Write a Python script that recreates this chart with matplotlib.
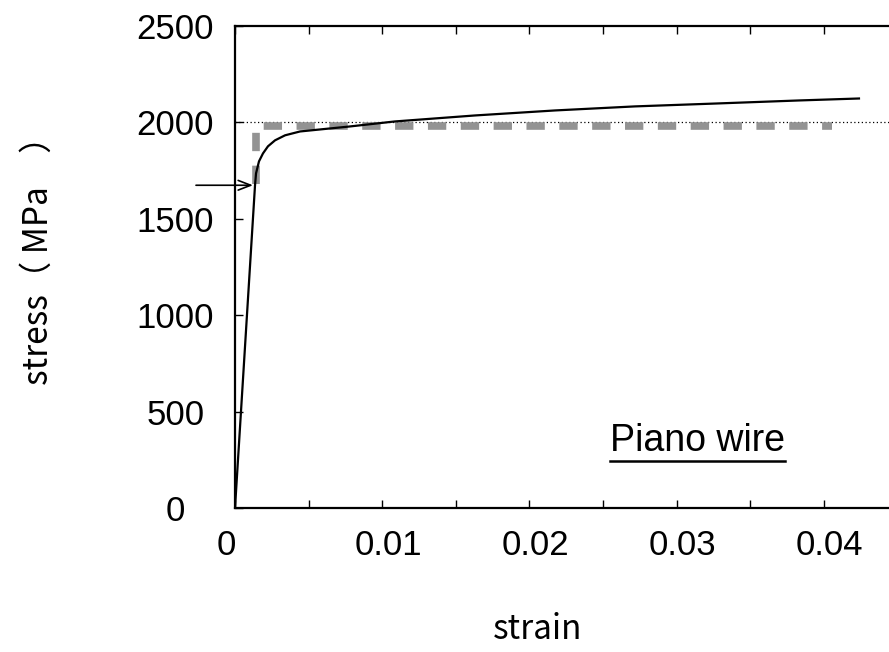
import matplotlib
matplotlib.use('Agg')
from matplotlib import pyplot as plt
from matplotlib.lines import Line2D
from matplotlib.transforms import ScaledTranslation

# Stress-strain curve of piano wire.
strain = [0.0, 0.00136, 0.00143, 0.00163, 0.00190, 0.00224, 0.00272, 0.00340,
          0.00442, 0.00781, 0.01087, 0.0163, 0.02174, 0.02717, 0.03268,
          0.03838, 0.04239]
stress = [0, 1674, 1736, 1798, 1839, 1876, 1907, 1933,
          1953, 1979, 2005, 2036, 2062, 2083, 2098,
          2114, 2124]

# Bilinear approximation (gray dashed).
approx_strain = [0.00143, 0.00143, 0.04056]
approx_stress = [1680, 1980, 1980]

yield_stress = 2000
arrow_stress = 1674

x_ticks = [0.005 * k for k in range(0, 9)]
x_labels = ['0', '', '0.01', '', '0.02', '', '0.03', '', '0.04']
y_ticks = [0, 500, 1000, 1500, 2000, 2500]

plt.rcParams['font.family'] = ['Liberation Sans', 'DejaVu Sans']
cjk = ['Noto Sans CJK JP', 'DejaVu Sans']

fig = plt.figure(figsize=(8.89, 6.52), dpi=100)
ax = fig.add_axes([235 / 889, 144 / 652, 654 / 889, 482 / 652])

ax.axhline(yield_stress, color='black', lw=0.9, ls=(0, (1, 2)))
ax.plot(approx_strain, approx_stress, color='#939393', lw=5.5,
        dashes=(2.4, 1.9), solid_capstyle='butt', dash_capstyle='butt')
ax.plot(strain, stress, color='black', lw=1.6)

ax.annotate('', xy=(0.00122, arrow_stress), xytext=(-0.00265, arrow_stress),
            arrowprops=dict(arrowstyle='->,head_length=0.9,head_width=0.35',
                            color='black', lw=1.2, shrinkA=0, shrinkB=0),
            annotation_clip=False)

txt = ax.text(0.03145, 347, 'Piano wire', fontsize=27, ha='center', va='center')

# Formatowanie osi.
ax.set_xlim(0, 0.04443)
ax.set_ylim(0, 2500)
ax.spines['right'].set_visible(False)
for s in ['left', 'bottom', 'top']:
    ax.spines[s].set_linewidth(1.6)

ax.set_xticks(x_ticks)
ax.set_xticklabels(x_labels)
ax.tick_params(axis='x', direction='in', length=6, width=1, top=True,
               bottom=True, pad=15, labelsize=25)
for lab in ax.get_xticklabels():
    dx = -9 if lab.get_text() == '0' else 6
    lab.set_transform(lab.get_transform() + ScaledTranslation(dx / 100, 0, fig.dpi_scale_trans))

ax.set_yticks(y_ticks)
ax.tick_params(axis='y', direction='in', length=6, width=1, pad=43, labelsize=25)
for lab in ax.get_yticklabels():
    lab.set_horizontalalignment('center')

ax.set_xlabel('strain', fontsize=24, family=cjk, va='center')
ax.xaxis.set_label_coords(0.462, -0.253)
ax.set_ylabel('stress（ MPa\u3000）', fontsize=24, family=cjk, va='center')
ax.yaxis.set_label_coords(-0.301, 0.53)

# Podkreślenie napisu.
fig.canvas.draw()
bb = txt.get_window_extent()
fig.add_artist(Line2D([bb.x0 / 889, bb.x1 / 889],
                      [(bb.y0 - 2) / 652, (bb.y0 - 2) / 652],
                      color='black', lw=1.8))

fig.savefig('out.png', dpi=100)
